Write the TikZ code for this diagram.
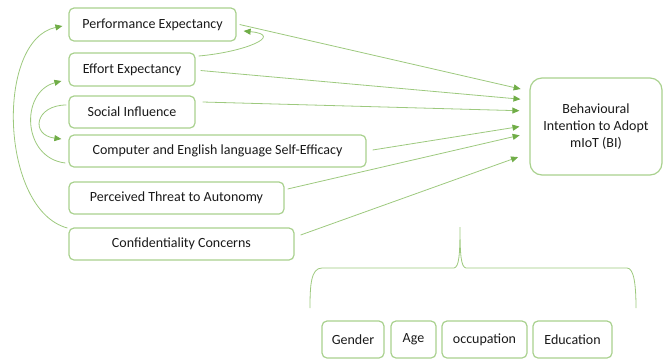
\documentclass[tikz,border=0pt]{standalone}
\usepackage{fontspec}
\setmainfont{Carlito}
\usetikzlibrary{arrows.meta}
\definecolor{boxgreen}{HTML}{A9D18E}
\definecolor{linegreen}{HTML}{9DC97E}
\definecolor{tipgreen}{HTML}{70AD47}
\definecolor{txt}{HTML}{1A1A1A}
\tikzset{
  factor/.style={draw=boxgreen, line width=1.2pt, rounded corners=5pt, fill=white,
    text=txt, font=\fontsize{14}{17}\selectfont, inner sep=0pt, align=center},
  link/.style={draw=linegreen, line width=0.8pt,
    -{Triangle[length=7pt,width=6pt,color=tipgreen]}},
  plainlink/.style={draw=linegreen, line width=0.8pt},
}
\begin{document}
\begin{tikzpicture}[x=1pt,y=-1pt]
\useasboundingbox (0,0) rectangle (665,360);

% predictor boxes
\node[factor, minimum width=167pt, minimum height=33pt] (pe)   at (152.5,24.5)  {Performance Expectancy};
\node[factor, minimum width=126pt, minimum height=33pt] (ee)   at (132,69.5)    {Effort Expectancy};
\node[factor, minimum width=126pt, minimum height=32pt] (si)   at (132,112)     {Social Influence};
\node[factor, minimum width=297pt, minimum height=32pt] (cese) at (217.5,151)   {Computer and English language Self-Efficacy};
\node[factor, minimum width=215pt, minimum height=32pt] (pta)  at (176.5,198)   {Perceived Threat to Autonomy};
\node[factor, minimum width=225pt, minimum height=32pt] (cc)   at (181.5,244)   {Confidentiality Concerns};

% outcome box
\node[factor, rounded corners=12pt, minimum width=132pt, minimum height=97pt] (bi) at (596,126.5)
  {Behavioural\\Intention to Adopt\\mIoT (BI)};

% moderator boxes
\node[factor, minimum width=62pt, minimum height=37pt] (gen) at (353,339.5) {Gender};
\node[factor, minimum width=45pt, minimum height=37pt] (age) at (413.5,339.5) {Age};
\node[factor, minimum width=85pt, minimum height=37pt] (occ) at (484.5,339.5) {occupation};
\node[factor, minimum width=79pt, minimum height=37pt] (edu) at (572.5,339.5) {Education};

% direct paths into BI
\draw[link, shorten >=9pt] ([xshift=3pt]pe.east) -- ([yshift=35.5pt]bi.west);
\draw[link, shorten >=9pt] ([xshift=5pt,yshift=-1pt]ee.east) -- ([yshift=26.5pt]bi.west);
\draw[link, shorten >=10pt] ([xshift=7pt,yshift=10pt]si.east) -- ([yshift=15.5pt]bi.west);
\draw[link, shorten >=10pt] ([xshift=6pt,yshift=1pt]cese.east) -- ([yshift=1.5pt]bi.west);
\draw[link, shorten >=10pt] ([xshift=3pt,yshift=9pt]pta.east) -- ([yshift=-6.5pt]bi.west);
\draw[link, shorten >=12pt] ([xshift=6pt,yshift=9pt]cc.east) -- ([yshift=-26.5pt]bi.west);

% paths between predictors
\draw[link] ([xshift=3pt,yshift=13.5pt]ee.east) .. controls (245,52) and (285,35) .. ([xshift=7pt,yshift=-6.5pt]pe.east);
\draw[link] ([xshift=-1pt,yshift=16pt]cc.west) .. controls (0,210) and (-5,40) .. ([xshift=-6pt,yshift=-1.5pt]pe.west);
\draw[link] ([xshift=-3pt,yshift=-12pt]cese.west) .. controls (22,158) and (20,92) .. ([xshift=-7pt,yshift=-11.5pt]ee.west);
\draw[link] ([xshift=-2pt,yshift=7pt]si.west) .. controls (35,105) and (30,135) .. ([xshift=-7pt,yshift=12pt]cese.west);

% brace grouping the moderators
\draw[plainlink] (310,308) .. controls (310,285) and (311,268) .. (322,268)
  -- (454,268) .. controls (459,267) and (460,255) .. (460,227)
  .. controls (460,255) and (461,267) .. (466,268)
  -- (627,268) .. controls (634,268) and (636,285) .. (636,308);
\end{tikzpicture}
\end{document}
